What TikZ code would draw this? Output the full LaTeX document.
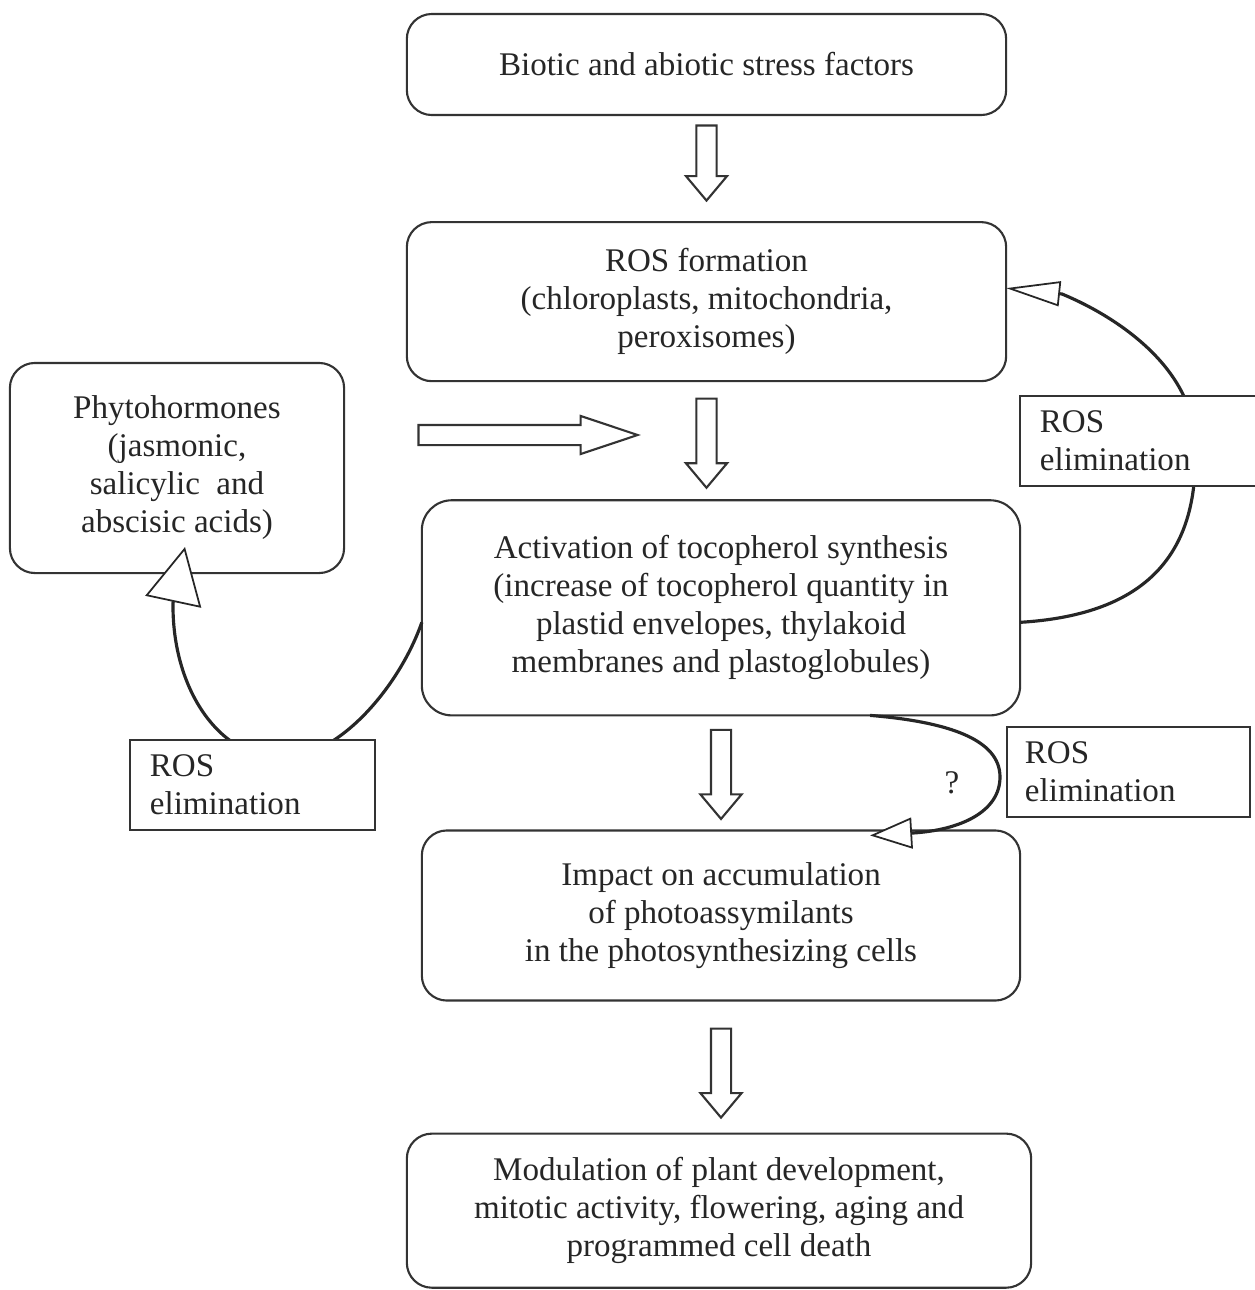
\documentclass[tikz,border=0pt]{standalone}
\usepackage{fontspec}
\setmainfont{Liberation Serif}
\usepackage{tikz}
\usetikzlibrary{arrows.meta,shapes.arrows,positioning}

\begin{document}
\begin{tikzpicture}[x=0.01cm, y=-0.01cm]
\tikzstyle{main}=[rectangle, rounded corners=0.25cm, draw=black!80, line width=0.6pt, inner sep=0pt, outer sep=0pt, align=center, text=black!85, font=\fontsize{9.4}{10.8}\selectfont]
\tikzstyle{elim}=[rectangle, draw=black!80, fill=white, line width=0.5pt, inner ysep=0pt, inner xsep=0.2cm, outer sep=0pt, align=left, text=black!85, font=\fontsize{9.4}{10.8}\selectfont]
\tikzstyle{blockdown}=[single arrow, draw=black!80, line width=0.6pt, rotate=-90, inner sep=0.09cm, single arrow head extend=0.105cm, single arrow tip angle=80, minimum height=0.89cm]
\tikzstyle{feedback}=[draw=black!85, line width=0.9pt]
\tikzstyle{head}=[-{Triangle[fill=white, line width=0.5pt, #1]}]
\useasboundingbox (0,0) rectangle (1255,1290);

  % main chain
  \node[main, minimum width=5.99cm, minimum height=1.01cm] (stress) at (706.5,64.5) {Biotic and abiotic stress factors};
  \node[main, minimum width=5.99cm, minimum height=1.59cm] (ros) [below=1.07cm of stress] {ROS formation\\(chloroplasts, mitochondria,\\peroxisomes)};
  \node[main, minimum width=5.98cm, minimum height=2.15cm, rounded corners=0.3cm] (act) [below=1.19cm of ros, xshift=0.145cm] {Activation of tocopherol synthesis\\(increase of tocopherol quantity in\\plastid envelopes, thylakoid\\membranes and plastoglobules)};
  \node[main, minimum width=5.98cm, minimum height=1.70cm] (imp) [below=1.15cm of act] {Impact on accumulation\\of photoassymilants\\in the photosynthesizing cells};
  \node[main, minimum width=6.24cm, minimum height=1.54cm] (mod) [below=1.33cm of imp, xshift=-0.02cm] {Modulation of plant development,\\mitotic activity, flowering, aging and\\programmed cell death};
  \node[main, minimum width=3.34cm, minimum height=2.10cm] (phyto) at (177,468) {Phytohormones\\(jasmonic,\\salicylic~ and\\abscisic acids)};

  % block arrows (xshift runs along the arrow)
  \path (stress.south) -- node[blockdown, minimum height=0.75cm, xshift=-0.115cm] (a1) {} (ros.north);
  \path (ros.south) -- node[blockdown, xshift=-0.035cm] (a2) {} (ros.south |- act.north);
  \path (act.south) -- node[blockdown, xshift=-0.045cm] (a3) {} (imp.north);
  \path (imp.south) -- node[blockdown] (a4) {} (imp.south |- mod.north);
  \node[single arrow, draw=black!80, line width=0.6pt, inner sep=0.09cm, single arrow head extend=0.09cm, single arrow tip angle=37, minimum height=2.19cm] (a5) at (513,435) {};

  % feedback loops
  \draw[feedback, head={length=0.54cm, width=0.25cm}] ([yshift=-0.145cm]act.east)
    .. controls (1140,615) and (1200,560) .. (1195,445)
    .. controls (1195,370) and (1120,318) .. (1062,294) -- ([yshift=0.135cm]ros.east);
  \draw[feedback, head={length=0.56cm, width=0.57cm}] ([yshift=-0.145cm]act.west)
    .. controls (400,685) and (340,758) .. (281,758)
    .. controls (220,758) and (172,690) .. (173,603) -- ([xshift=0.08cm, yshift=0.26cm]phyto.south);
  \draw[feedback, head={length=0.42cm, width=0.31cm}] ([xshift=1.49cm]act.south)
    .. controls (950,722) and (1000,740) .. (1000,777)
    .. controls (1000,812) and (960,830) .. (913,833) -- ([xshift=1.49cm, yshift=-0.05cm]imp.north);

  % labels
  \node[elim, minimum width=2.45cm, minimum height=0.90cm, text width=2.05cm] (elimL) at (252.5,785) {ROS\\elimination};
  \node[elim, minimum width=2.42cm, minimum height=0.90cm, text width=2.02cm] (elimR) at (1141,441) {ROS\\elimination};
  \node[elim, minimum width=2.43cm, minimum height=0.90cm, text width=2.07cm, inner xsep=0.18cm] (elimB) at (1128.5,772) {ROS\\elimination};
  \node[text=black!85, font=\fontsize{9.4}{10.8}\selectfont] (q) at (952,783) {?};

\end{tikzpicture}
\end{document}
